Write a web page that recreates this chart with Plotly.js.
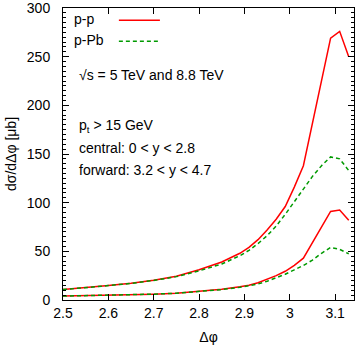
<!DOCTYPE html>
<html>
<head>
<meta charset="utf-8">
<script src="https://cdn.plot.ly/plotly-3.0.1.min.js"></script>
<style>
  html, body { margin: 0; padding: 0; background: #fff; }
  #plot { width: 356px; height: 349px; }
</style>
</head>
<body>
<div id="plot"></div>
<script>
// delta phi values (rad) where the curves are sampled
const dphi = [2.50, 2.55, 2.60, 2.65, 2.70, 2.75, 2.80, 2.85, 2.89, 2.91, 2.93,
  2.95, 2.97, 2.99, 3.01, 3.03, 3.05, 3.07, 3.09, 3.11, 3.13];

// central rapidity, 0 < y < 2.8
const ppCentral = [10.7, 12.5, 14.8, 17.2, 20.3, 24.5, 31, 39, 48, 54, 62,
  72, 83, 96, 116, 138, 182, 225, 269, 276, 250];
const pPbCentral = [10.7, 12.5, 14.8, 17.1, 20.1, 24, 30, 37, 45.5, 51, 58,
  66, 76, 88, 101, 114, 127, 138, 147, 145, 133];

// forward rapidity, 3.2 < y < 4.7
const ppForward = [4, 4.4, 4.8, 5.3, 6, 7, 8.8, 11, 13.5, 15.2, 17.8,
  21, 25, 29.5, 35.5, 43, 59, 75, 91, 92.5, 82];
const pPbForward = [4, 4.4, 4.8, 5.3, 6, 7, 8.7, 10.7, 13, 14.5, 16.5,
  19.2, 22.5, 26.5, 31, 35.5, 41, 48, 54, 52, 47.5];

const xTicks = [2.5, 2.6, 2.7, 2.8, 2.9, 3, 3.1];
const yTicks = [0, 50, 100, 150, 200, 250, 300];

const red = "#ff0000";
const green = "#009a00";
const font = "Liberation Sans, Arial, Helvetica, sans-serif";

const ppLine = { color: red, width: 1.5 };
const pPbLine = { color: green, width: 1.5, dash: "4px,3px" };

const traces = [
  { x: dphi, y: ppCentral, mode: "lines", line: ppLine, name: "p-p" },
  { x: dphi, y: pPbCentral, mode: "lines", line: pPbLine, name: "p-Pb" },
  { x: dphi, y: ppForward, mode: "lines", line: ppLine, name: "p-p" },
  { x: dphi, y: pPbForward, mode: "lines", line: pPbLine, name: "p-Pb" },
];

// text block inside the frame, paper coordinates
const notes = [
  { text: "p-p", x: 0.031, y: 0.961 },
  { text: "p-Pb", x: 0.031, y: 0.889 },
  { text: "√s = 5 TeV and 8.8 TeV", x: 0.048, y: 0.770 },
  { text: "p<sub>t</sub> &gt; 15 GeV", x: 0.048, y: 0.596 },
  { text: "central: 0 &lt; y &lt; 2.8", x: 0.048, y: 0.520 },
  { text: "forward: 3.2 &lt; y &lt; 4.7", x: 0.048, y: 0.445 },
];

const layout = {
  width: 356,
  height: 349,
  margin: { l: 63, r: 2, t: 7.5, b: 48.5 },
  paper_bgcolor: "#fff",
  plot_bgcolor: "#fff",
  showlegend: false,
  font: { family: font, size: 14, color: "#000" },
  xaxis: {
    range: [2.5, Math.PI],
    tickvals: xTicks,
    ticks: "inside",
    ticklen: 6,
    tickcolor: "#000",
    ticklabeloverflow: "allow",
    showline: true,
    linecolor: "#000",
    linewidth: 1,
    mirror: "allticks",
    showgrid: false,
    zeroline: false,
    title: { text: "Δφ", font: { size: 14 }, standoff: 12 },
  },
  yaxis: {
    range: [0, 300],
    tickvals: yTicks,
    ticks: "inside",
    ticklen: 6,
    tickcolor: "#000",
    ticklabelstandoff: 9,
    ticklabeloverflow: "allow",
    minor: { dtick: 5, ticks: "inside", ticklen: 3, tickcolor: "#000" },
    showline: true,
    linecolor: "#000",
    linewidth: 1,
    mirror: "allticks",
    showgrid: false,
    zeroline: false,
    title: { text: "dσ/dΔφ [μb]", font: { size: 14 }, standoff: 6 },
  },
  annotations: notes.map((n) => ({
    text: n.text,
    x: n.x,
    y: n.y,
    xref: "paper",
    yref: "paper",
    xanchor: "left",
    yanchor: "middle",
    showarrow: false,
    font: { size: 14 },
  })),
  shapes: [
    { type: "line", xref: "paper", yref: "paper", x0: 0.192, x1: 0.333,
      y0: 0.958, y1: 0.958, line: ppLine },
    { type: "line", xref: "paper", yref: "paper", x0: 0.192, x1: 0.333,
      y0: 0.886, y1: 0.886, line: pPbLine },
  ],
};

Plotly.newPlot("plot", traces, layout, { displayModeBar: false, staticPlot: true });
</script>
</body>
</html>
